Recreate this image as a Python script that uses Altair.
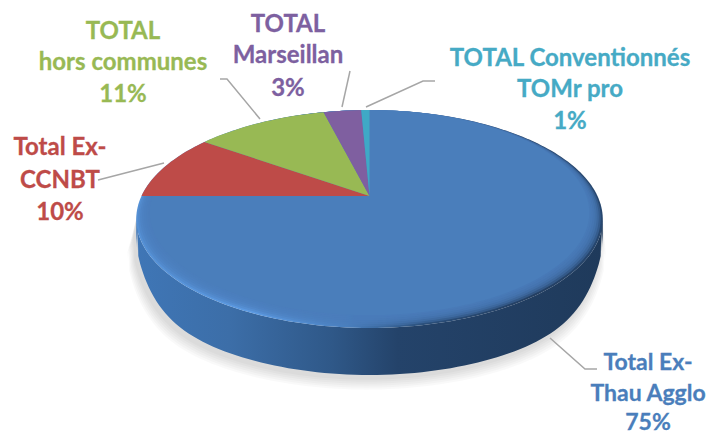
import math
import altair as alt
import pandas as pd

# ---- data
categories = ["Total Ex-Thau Agglo", "Total Ex-CCNBT", "TOTAL hors communes", "TOTAL Marseillan", "TOTAL Conventionnés TOMr pro"]
shares = [75.0, 9.9, 11.2, 3.2, 0.7]
label_lines = [
    ["Total Ex-", "Thau Agglo", "75%"],
    ["Total Ex-", "CCNBT", "10%"],
    ["TOTAL", "hors communes", "11%"],
    ["TOTAL", "Marseillan", "3%"],
    ["TOTAL Conventionnés", "TOMr pro", "1%"],
]
colors = ["#4a7ebb", "#be4b48", "#98b954", "#7f5fa0", "#3fa9c6"]
label_colors = ["#4a7ebb", "#be4b48", "#98b954", "#7d60a0", "#46aac5"]

# ---- layout (page pixels)
W, H = 699, 427
CX, CY0 = 369.5, 196.0   # pie apex
A, B, K = 228.0, 104.1, 0.211
DEPTH = 47
label_xy = [(648, [363, 394, 423]), (60, [148, 181, 213]), (123, [32, 63, 95]), (288, [25, 56, 89]), (570, [59, 90, 122])]
label_sizes = [23, 24, 24, 24, 24]
leaders = [
    [(550, 338), (585, 369), (597, 369)],
    [(164, 163), (98, 180)],
    [(260, 119), (227, 79), (220, 79)],
    [(342, 107), (350, 71)],
    [(366, 107), (423, 81), (435, 81)],
]

x_scale = alt.Scale(domain=[8, 8 + W], nice=False, zero=False)
y_scale = alt.Scale(domain=[8 + H, 8], nice=False, zero=False)


def rim(theta, r=1.0):
    u, v = r * math.sin(theta), -r * math.cos(theta)
    w = 1 - K * v
    return CX + A * u / w, CY0 + B * v / w


def poly(points, **mark):
    df = pd.DataFrame({"x": [p[0] for p in points], "y": [p[1] for p in points], "i": range(len(points))})
    return alt.Chart(df).mark_line(strokeWidth=0, stroke="transparent", clip=False, interpolate="linear", **mark).encode(
        x=alt.X("x:Q", scale=x_scale, axis=None),
        y=alt.Y("y:Q", scale=y_scale, axis=None),
        order="i:Q",
    )


def circle(n=240):
    return [rim(2 * math.pi * k / n) for k in range(n)]


def ellipse_inset(d):
    # same outline, pulled in at sides and front but pinned to the back edge
    pts = []
    for x, y in circle():
        top = 110.0
        sx = 1 - d / 234.0
        sy = 1 - d * 0.95 / 218.0
        pts.append((CX + (x - CX) * sx, top + (y - top) * sy))
    return pts


def grad(stops):
    return alt.Gradient(
        gradient="linear", x1=0, x2=1, y1=0, y2=0,
        stops=[alt.GradientStop(offset=o, color=c) for o, c in stops],
    )


def lower(x, y, extra=0.0):
    # bottom edge of the wall: full depth at the front, rounded off at the sides
    s = min(1.0, abs(x - CX) / 234.0)
    return x, y + (DEPTH + extra) * (1 - 0.6 * s ** 12)


layers = []

# soft shadow
outline = circle()
front = [p for p in outline if p[1] >= 205]
front.sort(key=lambda p: p[0])
for s in range(6):
    off = 2 + s * 2.2
    pts = []
    for x, y in front:
        lx, ly = lower(x, y)
        pts.append((CX + (lx - CX) * (1 + off / 500) - 3, ly + 3 + off * 0.9))
    pts += [(x, y) for x, y in reversed(front)]
    layers.append(poly(pts, fill="#000000", fillOpacity=0.022))

# side wall
wall = [lower(x, y) for x, y in front] + [(x, y) for x, y in reversed(front)]
layers.append(poly(wall, fill=grad([
    (0.0, "#3f76b6"), (0.2, "#3c6ea8"), (0.42, "#2f5888"), (0.56, "#24436a"), (1.0, "#1f3a5b"),
])))

# rim of the top surface, blending into the face
layers.append(poly(outline, fill=grad([
    (0.0, "#5590d4"), (0.25, "#5c9ae2"), (0.45, "#4a80bf"), (0.62, "#2b4f7a"), (0.85, "#243f62"), (1.0, "#27476f"),
])))
for s, d in enumerate([2, 4, 6, 8, 10, 12]):
    layers.append(poly(ellipse_inset(d), fill=colors[0], fillOpacity=0.4))
layers.append(poly(ellipse_inset(13.5), fill=colors[0]))

# the small slices lie over the blue surface
start = sum(shares[:1]) / 100 * 2 * math.pi
apex = (CX, CY0)
for share, col in zip(shares[1:], colors[1:]):
    end = start + share / 100 * 2 * math.pi
    n = max(4, int(share * 2))
    pts = [apex] + [rim(start + (end - start) * k / n) for k in range(n + 1)]
    layers.append(poly(pts, fill=col))
    start = end

# leaders
for line in leaders:
    df = pd.DataFrame({"x": [p[0] for p in line], "y": [p[1] for p in line], "i": range(len(line))})
    layers.append(alt.Chart(df).mark_line(color="#a6a6a6", strokeWidth=1.5).encode(
        x=alt.X("x:Q", scale=x_scale, axis=None),
        y=alt.Y("y:Q", scale=y_scale, axis=None),
        order="i:Q",
    ))

# labels
for lines, (x, ys), col, size in zip(label_lines, label_xy, label_colors, label_sizes):
    df = pd.DataFrame({"t": lines, "x": [x] * len(lines), "y": ys})
    layers.append(alt.Chart(df).mark_text(
        font="Lato", fontWeight="bold", fontSize=size, align="center", baseline="middle",
        strokeWidth=0.3, color=col, stroke=col,
    ).encode(
        x=alt.X("x:Q", scale=x_scale, axis=None),
        y=alt.Y("y:Q", scale=y_scale, axis=None),
        text="t:N",
    ))

chart = alt.layer(*layers).properties(
    width=W, height=H, padding=0, autosize=alt.AutoSizeParams(type="none"), background="white",
).configure_view(stroke=None)

chart.save("out.html", embed_options={"renderer": "svg", "actions": False})
